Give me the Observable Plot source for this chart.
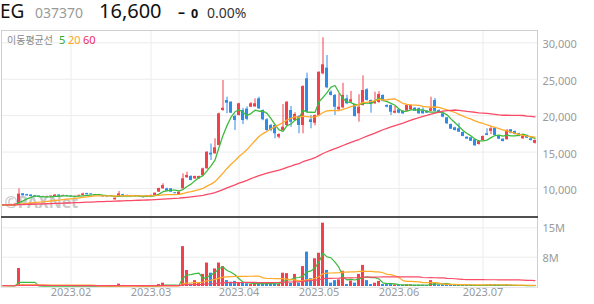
<!DOCTYPE html>
<html><head><meta charset="utf-8">
<script src="https://cdn.jsdelivr.net/npm/d3@7"></script>
<script src="https://cdn.jsdelivr.net/npm/@observablehq/plot@0.6"></script>
<style>
body{margin:0;background:#fff;font-family:"Noto Sans",sans-serif;}
#wrap{position:relative;width:594px;height:304px;overflow:hidden;background:#fff}
.abs{position:absolute}
svg{display:block}
</style></head><body>
<div id="wrap">
  <div id="price" class="abs" style="left:0;top:30px"></div>
  <div id="vol" class="abs" style="left:0;top:217px"></div>
  <div class="abs" style="left:1px;top:30px;width:535px;height:256px;border-left:1px solid #cfcfcf;border-top:1px solid #cfcfcf;border-right:1px solid #cfcfcf;border-bottom:1px solid #e6e6e6;pointer-events:none"></div>
  <div class="abs" style="left:1px;top:216px;width:537px;height:2px;background:#505050"></div>
  <svg class="abs" style="left:0;top:0;overflow:visible" width="594" height="50" font-family="Noto Sans">
    <text x="0" y="18" font-size="19" fill="#111">EG</text>
    <text x="35" y="18" font-size="14" fill="#9a9a9a">037370</text>
    <text x="99" y="18" font-size="20" fill="#111">16,600</text>
    <text x="178" y="17" font-size="14" font-weight="bold" fill="#111">–</text>
    <text x="191" y="18" font-size="12.5" font-weight="bold" fill="#111">0</text>
    <text x="207" y="18" font-size="14" fill="#333">0.00%</text>
    <text x="7" y="44" font-size="10" fill="#8a8a8a" font-family="Noto Sans CJK KR">이동평균선</text>
    <text x="59" y="44" font-size="11" fill="#2eaa2e">5</text>
    <text x="68" y="44" font-size="11" fill="#ffa21c">20</text>
    <text x="83" y="44" font-size="11" fill="#ee2d55">60</text>
  </svg>
</div>
<script>
// ---- data (trading days Jan 5 – Jul 20, 2023) ----
const holidays = ["2023-01-23","2023-01-24","2023-03-01","2023-05-01","2023-05-05","2023-05-29","2023-06-06"];
const dates = [];
for (let d = new Date(Date.UTC(2023,0,5)); d <= new Date(Date.UTC(2023,6,20)); d.setUTCDate(d.getUTCDate()+1)) {
  const wd = d.getUTCDay(); const s = d.toISOString().slice(0,10);
  if (wd !== 0 && wd !== 6 && !holidays.includes(s)) dates.push(s);
}
const open  = [7600,7750,7650,7700,7900,9270,9150,9100,9000,8950,8900,8800,8850,8900,9100,8900,9000,8950,8850,8950,9050,9300,9250,9050,9050,8950,8950,9000,8450,8900,9150,9050,8950,9000,9000,8850,8900,8950,9050,9500,9960,9950,9960,9400,9130,9960,11470,11650,11330,11330,11780,12700,14840,14760,15900,20710,22080,21850,19880,20020,20700,20900,21160,21200,22310,20700,19430,18650,18650,17040,17960,18650,20700,19330,19880,18650,25060,19430,18960,20020,25740,26520,23220,22770,20800,21080,22300,21850,21530,20250,21390,23550,22080,21630,21800,22770,21390,21390,20340,20800,20610,20610,20800,21020,20950,20610,20610,20600,22080,20700,20250,19700,18780,18330,18200,17690,17040,16960,16690,16040,16590,17510,17850,18280,17140,16770,16690,18060,17820,17510,16820,17280,16820,16200];
const high  = [7800,7800,7850,7900,9960,9300,9200,9150,9050,9000,8950,8950,9000,9150,9150,9100,9050,9000,8950,9100,9350,9350,9300,9200,9200,9000,9000,9050,8700,9600,9200,9100,9050,9050,9050,8900,9050,9100,9400,10050,10650,10050,10000,9450,9550,12000,12240,11750,11700,11700,12800,15050,16100,16820,20350,24820,22530,21900,20100,21700,21000,21200,21800,22300,22530,20800,19600,18800,18750,17500,21530,21900,21250,20400,20000,24100,25830,20020,20100,26000,30690,28260,23400,22900,23000,24450,22800,23320,21600,22870,25470,23700,22150,23220,23300,22850,21500,21450,21260,20900,20700,21450,21450,21100,21050,21080,20700,22530,22350,20800,20300,19750,18850,18400,18950,17750,17100,17000,16750,16500,17200,18200,18450,18300,17200,16800,18100,18100,17900,17600,17250,17350,16900,16650];
const low   = [7550,7600,7600,7650,7850,8950,8950,8880,8800,8750,8750,8780,8820,8880,8900,8880,8850,8800,8800,8900,9000,9100,9100,9000,9000,8800,8800,8900,8400,8850,8950,8900,8900,8850,8850,8700,8850,8900,9000,9450,9900,9600,9450,9250,9050,9900,11400,11050,11250,11250,11700,12650,13850,14700,15850,20600,20250,20300,17960,19950,18785,19300,21100,21150,20850,19300,17850,17800,16820,16820,17900,18500,18400,19200,17510,17510,20400,18195,18600,19900,25600,23700,22700,20020,20700,20950,21500,21800,19800,19100,21300,22000,20340,21550,21700,21900,21050,20020,20250,20250,20150,20550,20700,20600,20200,20200,20300,20550,20500,20300,19700,18800,18100,17900,17700,17100,16750,16450,15800,15950,16550,17250,17400,17250,16700,16400,16650,17500,17350,17100,16750,16850,16500,16100];
const close = [7750,7650,7800,7850,9230,9000,8980,8900,8850,8800,8800,8880,8950,9100,8950,9000,8900,8850,8920,9050,9250,9150,9150,9150,9150,8850,8850,8950,8650,9250,9000,8950,9000,8900,8900,8750,9000,9050,9350,10000,10400,9630,9500,9300,9490,11330,11780,11100,11650,11650,12700,14980,14600,15590,20250,21020,21710,20340,19330,21630,19330,19500,21630,21630,20940,19430,17960,17960,17510,17410,18410,21850,19100,20160,18650,24000,20470,19060,20020,25960,26980,23820,22770,21160,21160,22770,21630,22170,19880,21160,23450,22080,21630,21950,22900,21980,21160,20470,20610,20340,20250,21390,21390,20610,20250,20250,20340,20950,20600,20350,19790,18880,18140,17960,17730,17140,16770,16490,15860,16450,17140,17280,18200,17280,16770,16450,17960,17590,17410,17140,17180,16900,16600,16600];
const volumeM = [0.2,0.15,0.15,0.2,4.6,0.3,0.15,0.1,0.1,0.08,0.08,0.06,0.08,0.1,0.08,0.06,0.06,0.05,0.05,0.08,0.12,0.1,0.08,0.06,0.05,0.06,0.05,0.05,0.08,0.6,0.15,0.1,0.06,0.06,0.05,0.06,0.06,0.08,0.15,0.5,0.85,0.25,0.2,0.1,0.15,10.2,4.1,0.6,1.5,0.8,3.1,6.0,3.4,4.5,6.0,5.1,1.5,1.1,1.3,0.9,0.85,0.7,0.5,0.85,0.7,0.7,0.85,0.6,0.7,0.55,3.4,3.3,0.8,3.1,0.9,5.1,8.8,2.0,7.1,8.5,16.2,4.1,0.85,1.5,1.7,3.9,0.5,1.4,0.85,3.1,5.4,1.5,0.5,0.85,1.3,0.5,0.5,0.6,0.4,0.3,0.3,0.4,0.4,0.3,0.3,0.3,0.3,1.5,0.85,0.4,0.4,0.5,0.5,0.4,0.4,0.3,0.3,0.3,0.3,0.2,0.3,0.4,0.5,0.4,0.3,0.2,0.4,0.3,0.2,0.2,0.2,0.2,0.2,0.2];
const priceTicks = [10000,15000,20000,25000,30000];
const volTicks = [7.5e6, 15e6];
const maPeriods = [5, 20, 60];
const maColors = ["#3dbb3d", "#ffaa2a", "#fa4a66"];

// ---- derived ----
const UP = "#f2404c", DOWN = "#2e8be8";
const rows = dates.map((d, i) => ({i, date: d, open: open[i], high: high[i], low: low[i], close: close[i], vol: volumeM[i]*1e6}));
function ma(arr, k) { // moving average; history before the first day held at the first value
  return arr.map((_, i) => { let s = 0; for (let j = i-k+1; j <= i; j++) s += arr[Math.max(j,0)]; return s/k; });
}
const maRows = [];
maPeriods.forEach((k, m) => {
  const mp = ma(close, k), mv = ma(volumeM.map(v => v*1e6), k);
  rows.forEach((r, i) => maRows.push({i, k, m, price: mp[i], vol: mv[i]}));
});
const monthIdx = [], monthLab = [];
dates.forEach((d, i) => { if (i > 0 && d.slice(5,7) !== dates[i-1].slice(5,7)) { monthIdx.push(i); monthLab.push(d.slice(0,4)+"."+d.slice(5,7)); } });
const col = r => r.close >= r.open ? UP : DOWN;
const xdom = [-0.375, rows.length - 0.375];
const font = "Noto Sans";

const price = Plot.plot({
  width: 594, height: 187, marginTop: 0, marginBottom: 0, marginLeft: 1, marginRight: 57,
  style: {background: "transparent", overflow: "visible"},
  x: {domain: xdom, axis: null},
  y: {domain: [6019, 31688], axis: null},
  marks: [
    Plot.ruleY(priceTicks, {stroke: "#ececec"}),
    Plot.ruleX(monthIdx, {stroke: "#ececec"}),
    Plot.text(["©PAXNet"], {frameAnchor: "bottom-left", dx: 3, dy: -10, fontSize: 16, fontWeight: "bold", fill: "#c9c9c9", textAnchor: "start", fontFamily: font}),
    Plot.text(priceTicks, {y: d => d, frameAnchor: "right", text: d => d3.format(",")(d), textAnchor: "start", dx: 5, dy: 2, fill: "#9a9a9a", fontSize: 11, fontFamily: font}),
    Plot.ruleX(rows, {x: "i", y1: "low", y2: "high", stroke: col, strokeWidth: 1}),
    Plot.rect(rows, {x1: r => r.i - 0.375, x2: r => r.i + 0.375, y1: "open", y2: "close", fill: col}),
    ...maPeriods.map((k, m) => Plot.line(maRows.filter(d => d.k === k), {x: "i", y: "price", stroke: maColors[m], strokeWidth: 1.3}))
  ]
});
document.getElementById("price").appendChild(price);

const vol = Plot.plot({
  width: 594, height: 87, marginTop: 0, marginBottom: 18, marginLeft: 1, marginRight: 57,
  style: {background: "transparent", overflow: "visible"},
  x: {domain: xdom, axis: null},
  y: {domain: [0, 17.66e6], axis: null},
  marks: [
    Plot.ruleY(volTicks, {stroke: "#ececec"}),
    Plot.ruleX(monthIdx, {stroke: "#ececec"}),
    Plot.rect(rows, {x1: r => r.i - 0.375, x2: r => r.i + 0.375, y1: 0, y2: "vol", fill: col}),
    ...maPeriods.map((k, m) => Plot.line(maRows.filter(d => d.k === k), {x: "i", y: "vol", stroke: maColors[m], strokeWidth: 1.2})),
    Plot.text(volTicks, {y: d => d, frameAnchor: "right", text: d => Math.round(d/1e6) + "M", textAnchor: "start", dx: 5, dy: 1, fill: "#9a9a9a", fontSize: 11, fontFamily: font}),
    Plot.text(monthIdx, {x: d => d, frameAnchor: "bottom", text: (d, j) => monthLab[j], dy: 9, fill: "#9a9a9a", fontSize: 11, fontFamily: font})
  ]
});
document.getElementById("vol").appendChild(vol);
</script>
</body></html>
